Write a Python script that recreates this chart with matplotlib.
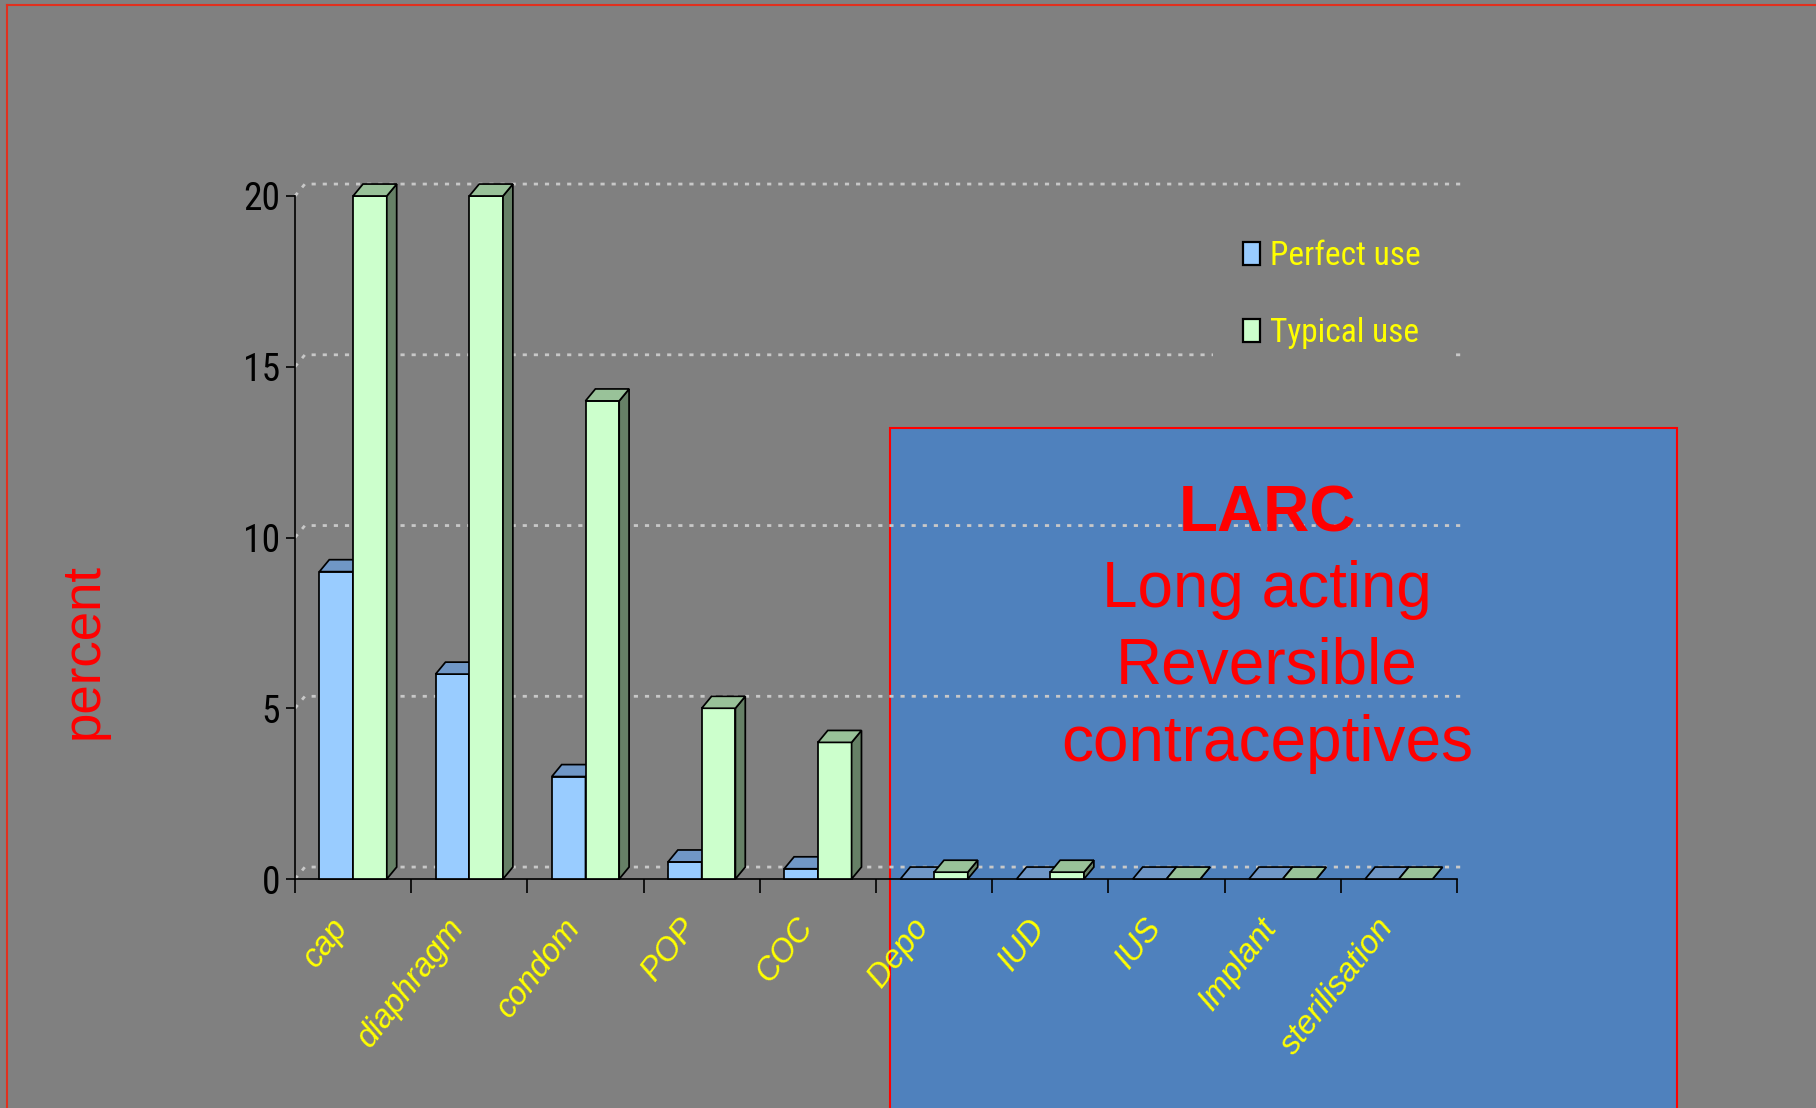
import matplotlib
matplotlib.use('Agg')
import matplotlib.pyplot as plt
from matplotlib import font_manager
from matplotlib.patches import Rectangle, Polygon, Patch
from matplotlib.lines import Line2D
from matplotlib.transforms import ScaledTranslation

# ---------------- data ----------------
categories = ['cap', 'diaphragm', 'condom', 'POP', 'COC',
              'Depo', 'IUD', 'IUS', 'Implant', 'sterilisation']
perfect_use = [9, 6, 3, 0.5, 0.3, 0, 0, 0, 0, 0]
typical_use = [20, 20, 14, 5, 4, 0.2, 0.2, 0, 0, 0]
series_names = ['Perfect use', 'Typical use']
y_ticks = [0, 5, 10, 15, 20]
larc_lines = ['LARC', 'Long acting', 'Reversible', 'contraceptives']
y_label = 'percent'

# ---------------- fonts ----------------
names = sorted({f.name for f in font_manager.fontManager.ttflist})
narrow_name = None
for pref in ['Liberation Sans Narrow', 'Arial Narrow', 'DejaVu Sans Condensed',
             'Roboto Condensed', 'Open Sans Condensed']:
    if pref in names:
        narrow_name = pref
        break
if narrow_name is None:
    for n in names:
        if 'Narrow' in n or 'Condensed' in n:
            narrow_name = n
            break
NARROW = ([narrow_name] if narrow_name else []) + ['Liberation Sans', 'DejaVu Sans']
NARROW_FOUND = narrow_name is not None
SANS = ['Liberation Sans', 'DejaVu Sans']

# ---------------- style ----------------
W, H, DPI = 1816, 1108, 100
BG = '#808080'
front_cols = ['#99CCFF', '#CCFFCC']
top_cols = ['#7097C6', '#99C299']
side_cols = ['#5A7A9F', '#668066']

fig = plt.figure(figsize=(W / DPI, H / DPI), dpi=DPI, facecolor=BG)


def fx(px):
    return px / W


def fy(py):
    return 1 - py / H


# outer slide border (top + left visible)
fig.add_artist(Line2D([fx(7), fx(W + 5)], [fy(5), fy(5)], color='#E0301E', lw=1.5,
                      transform=fig.transFigure, zorder=-2))
fig.add_artist(Line2D([fx(7), fx(7)], [fy(5), fy(H + 5)], color='#E0301E', lw=1.5,
                      transform=fig.transFigure, zorder=-2))

# blue LARC panel
fig.add_artist(Rectangle((fx(890), fy(H + 10)), fx(1677) - fx(890), fy(428) - fy(H + 10),
                         facecolor='#4F81BD', edgecolor='#FF0000', lw=1.5,
                         transform=fig.transFigure, zorder=-1))

# ---------------- axes ----------------
ax = fig.add_axes([fx(295), fy(879), fx(1457) - fx(295), (879 - 196) / H])
ax.patch.set_visible(False)
ax.set_xlim(0, len(categories))
ax.set_ylim(0, 20)

dx, dy = 0.085, 0.35   # 3D depth offsets in data units
bw = 0.29
start = 0.21

# gridlines on the back wall
for v in y_ticks:
    ax.plot([0, dx, len(categories) + dx], [v, v + dy, v + dy], color='#C8C8C8', lw=2.0,
            linestyle=(0, (1.5, 2.5)), zorder=1, clip_on=False)

for s, vals in enumerate([perfect_use, typical_use]):
    xs = [i + start + s * bw for i in range(len(categories))]
    ax.bar(xs, vals, width=bw, align='edge', color=front_cols[s], edgecolor='black',
           lw=1.25, zorder=3 + s, clip_on=False)
    for x0, v in zip(xs, vals):
        top = Polygon([(x0, v), (x0 + dx, v + dy), (x0 + bw + dx, v + dy), (x0 + bw, v)],
                      closed=True, facecolor=top_cols[s], edgecolor='black', lw=1.25,
                      zorder=3 + s, clip_on=False)
        side = Polygon([(x0 + bw, 0), (x0 + bw + dx, dy), (x0 + bw + dx, v + dy), (x0 + bw, v)],
                       closed=True, facecolor=side_cols[s], edgecolor='black', lw=1.25,
                       zorder=3 + s, clip_on=False)
        ax.add_patch(side)
        ax.add_patch(top)

# spines
for sp in ['top', 'right']:
    ax.spines[sp].set_visible(False)
for sp in ['left', 'bottom']:
    ax.spines[sp].set_linewidth(1.2)
    ax.spines[sp].set_color('black')

# y ticks
tick_fs = 27 if NARROW_FOUND else 24
ax.set_yticks(y_ticks)
ax.set_yticklabels([str(t) for t in y_ticks], fontsize=tick_fs, family=NARROW, color='black')
ax.tick_params(axis='y', length=6.5, width=1.2, pad=4.3, direction='out')

# x ticks: boundaries major, labels at centers (minor)
ax.set_xticks(range(len(categories) + 1))
ax.set_xticklabels([])
ax.tick_params(axis='x', which='major', length=10, width=1.2, direction='out')
ax.set_xticks([i + 0.5 for i in range(len(categories))], minor=True)
ax.set_xticklabels(categories, minor=True, fontsize=23.5, family=SANS, style='italic',
                   color='#FFFF00', rotation=52, ha='right', va='center',
                   rotation_mode='anchor')
ax.tick_params(axis='x', which='minor', length=0, pad=31)
off = ScaledTranslation(-11 / DPI, 0, fig.dpi_scale_trans)
for lab in ax.get_xticklabels(minor=True):
    lab.set_transform(lab.get_transform() + off)

# legend
leg_fs = 24 if NARROW_FOUND else 22
handles = [Patch(facecolor=front_cols[i], edgecolor='black', lw=1.6) for i in range(2)]
leg = ax.legend(handles, series_names, loc='upper left',
                bbox_to_anchor=(fx(1213), fy(210)), bbox_transform=fig.transFigure,
                frameon=True, facecolor=BG, edgecolor='none', framealpha=1,
                prop={'family': NARROW, 'size': leg_fs}, labelcolor='#FFFF00',
                handlelength=17 / (leg_fs * 1.389), handleheight=22 / (leg_fs * 1.389),
                handletextpad=0.3, labelspacing=1.36, borderpad=0.9, borderaxespad=0)
leg.set_zorder(10)
leg.get_frame().set_linewidth(0)

# y label
fig.text(fx(84), fy(651), y_label, rotation=90, ha='center', va='center',
         color='#FF0000', fontsize=38, family=SANS)

# LARC text
baselines = [532, 607, 683, 761]
for k, (txt, b) in enumerate(zip(larc_lines, baselines)):
    fig.text(fx(1267), fy(b), txt, ha='center', va='baseline', color='#FF0000',
             fontsize=46, family=SANS, fontweight='bold' if k == 0 else 'normal')

fig.savefig('out.png', dpi=DPI, facecolor=BG)
